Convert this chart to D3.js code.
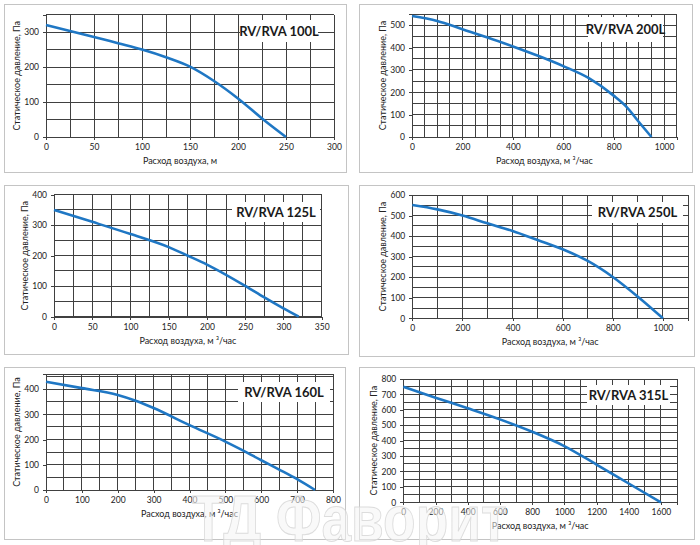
<!DOCTYPE html>
<html><head><meta charset="utf-8">
<script src="https://cdn.jsdelivr.net/npm/d3@7"></script>
<style>
html,body{margin:0;padding:0;background:#fff;}
svg{display:block;}
</style></head>
<body><svg id="c" width="700" height="545"></svg>
<script>
// ---------- DATA ----------
const titles = ["RV/RVA 100L","RV/RVA 200L","RV/RVA 125L","RV/RVA 250L","RV/RVA 160L","RV/RVA 315L"];
const xTitles = ["Расход воздуха, м","Расход воздуха, м ³/час","Расход воздуха, м ³/час","Расход воздуха, м ³/час","Расход воздуха, м ³/час","Расход воздуха, м ³/час"];
const yTitle = "Статическое давление, Па";

const flow100 = [0,25,50,75,100,125,150,175,200,225,250];
const pres100 = [320,303,286,268,250,228,201,160,110,53,0];

const flow200 = [0,100,200,300,400,500,600,700,800,850,900,950];
const pres200 = [541,519,482,445,405,363,317,264,185,136,67,0];

const flow125 = [0,50,100,150,175,200,250,275,300,320];
const pres125 = [350,311,271,228,200,171,101,63,27,0];

const flow250 = [0,100,200,300,400,500,600,700,800,900,1000];
const pres250 = [551,530,500,462,425,381,336,279,201,105,0];

const flow160 = [0,100,200,250,300,400,500,550,600,650,700,750];
const pres160 = [429,404,377,354,325,257,192,156,118,81,43,0];

const flow315 = [0,200,400,600,800,1000,1200,1400,1600];
const pres315 = [750,679,610,538,458,365,245,122,0];

const flows = [flow100,flow200,flow125,flow250,flow160,flow315];
const pressures = [pres100,pres200,pres125,pres250,pres160,pres315];

// axis domains and tick steps
const xMax = [300,1050,350,1100,800,1700];
const yMax = [350,550,400,600,460,800];
const xLabelStep = [50,200,50,200,100,200];
const xGridStep = [25,50,25,100,50,100];
const yLabelStep = [100,100,100,100,100,100];
const yGridStep = [50,50,50,50,50,50];

// ---------- LAYOUT ----------
const frames = [[4.5,4.5,346.5,172.5],[359.5,4.5,692.5,172.5],[4.5,185.5,348.5,354.5],[359.5,185.5,694.5,356.5],[4.5,367.5,345.5,539.5],[359.5,367.5,694.5,539.5]];
const plots = [[46,14.5,334,137],[412,14,676.7,137],[54,194.7,321.7,316.7],[412.3,195,688,318.3],[46,374,333,490],[403.3,379,677,502.3]];
const titleBoxes = [[240,20,318,42],[588,17,663,42],[232,202,320,222],[592,202,683,223],[238,382,330,402],[587,385,670,405]];

const svg = d3.select("#c");
const font = "Lato, 'Open Sans', sans-serif";
const gridCol = "#404040";

function range(step, max){ const a=[]; for(let v=0; v<=max+1e-9; v+=step) a.push(+v.toFixed(6)); return a; }

titles.forEach((t,i)=>{
  const [fx0,fy0,fx1,fy1] = frames[i];
  const [px0,py0,px1,py1] = plots[i];
  const g = svg.append("g");
  g.append("rect").attr("x",fx0).attr("y",fy0).attr("width",fx1-fx0).attr("height",fy1-fy0)
    .attr("fill","#fff").attr("stroke","#c4c4c4").attr("stroke-width",1);

  const x = d3.scaleLinear().domain([0,xMax[i]]).range([px0,px1]);
  const y = d3.scaleLinear().domain([0,yMax[i]]).range([py1,py0]);

  // gridlines
  const gg = g.append("g").attr("stroke",gridCol).attr("stroke-width",1).attr("shape-rendering","crispEdges");
  range(xGridStep[i], xMax[i]).concat([xMax[i]]).forEach(v=>{
    gg.append("line").attr("x1",x(v)).attr("x2",x(v)).attr("y1",py0).attr("y2",py1);
  });
  range(yGridStep[i], yMax[i]).concat([yMax[i]]).forEach(v=>{
    gg.append("line").attr("x1",px0).attr("x2",px1).attr("y1",y(v)).attr("y2",y(v));
  });

  // axes
  const xAxis = d3.axisBottom(x).tickValues(range(xLabelStep[i], Math.floor(xMax[i]/xLabelStep[i])*xLabelStep[i])).tickSize(3).tickPadding(4).tickFormat(d3.format("d"));
  const yAxis = d3.axisLeft(y).tickValues(range(yLabelStep[i], Math.floor(yMax[i]/yLabelStep[i])*yLabelStep[i])).tickSize(3).tickPadding(4).tickFormat(d3.format("d"));
  const ax = g.append("g").attr("transform",`translate(0,${py1})`).call(xAxis);
  const ay = g.append("g").attr("transform",`translate(${px0},0)`).call(yAxis);
  [ax,ay].forEach(a=>{
    a.select(".domain").attr("stroke",gridCol).attr("shape-rendering","crispEdges");
    a.selectAll(".tick line").attr("stroke",gridCol).attr("shape-rendering","crispEdges");
    a.selectAll("text").attr("font-family",font).attr("font-size",8.5).attr("fill","#222");
  });

  // title box
  const [bx0,by0,bx1,by1] = titleBoxes[i];
  g.append("rect").attr("x",bx0).attr("y",by0).attr("width",bx1-bx0).attr("height",by1-by0).attr("fill","#fff");
  g.append("text").attr("x",(bx0+bx1)/2).attr("y",(by0+by1)/2+4.5).attr("text-anchor","middle")
    .attr("font-family",font).attr("font-weight","bold").attr("font-size",13).attr("fill","#1a1a1a").text(t);

  // curve
  const pts = flows[i].map((f,k)=>[f,pressures[i][k]]);
  g.append("path").datum(pts)
    .attr("d", d3.line().x(d=>x(d[0])).y(d=>y(d[1])).curve(d3.curveMonotoneX))
    .attr("fill","none").attr("stroke","#1f77c4").attr("stroke-width",2.6);

  // axis titles
  g.append("text").attr("x",(px0+px1)/2 - (i===0?10:0)).attr("y",py1+27).attr("text-anchor","middle")
    .attr("font-family",font).attr("font-size",9).attr("fill","#222").text(xTitles[i]);
  g.append("text").attr("transform",`translate(${px0-26},${(py0+py1)/2}) rotate(-90)`).attr("text-anchor","middle")
    .attr("font-family",font).attr("font-size",9).attr("fill","#222").text(yTitle);
});

// watermark
svg.append("text").attr("x",192).attr("y",541).attr("textLength",315).attr("lengthAdjust","spacingAndGlyphs")
  .attr("font-family","'Liberation Sans', Arial, sans-serif").attr("font-weight","bold").attr("font-size",64)
  .attr("fill","#f4f4f4").attr("fill-opacity",0.55).attr("stroke","#d4d4d4").attr("stroke-opacity",0.8).attr("stroke-width",1)
  .text("ТД Фаворит");
</script>
</body></html>
